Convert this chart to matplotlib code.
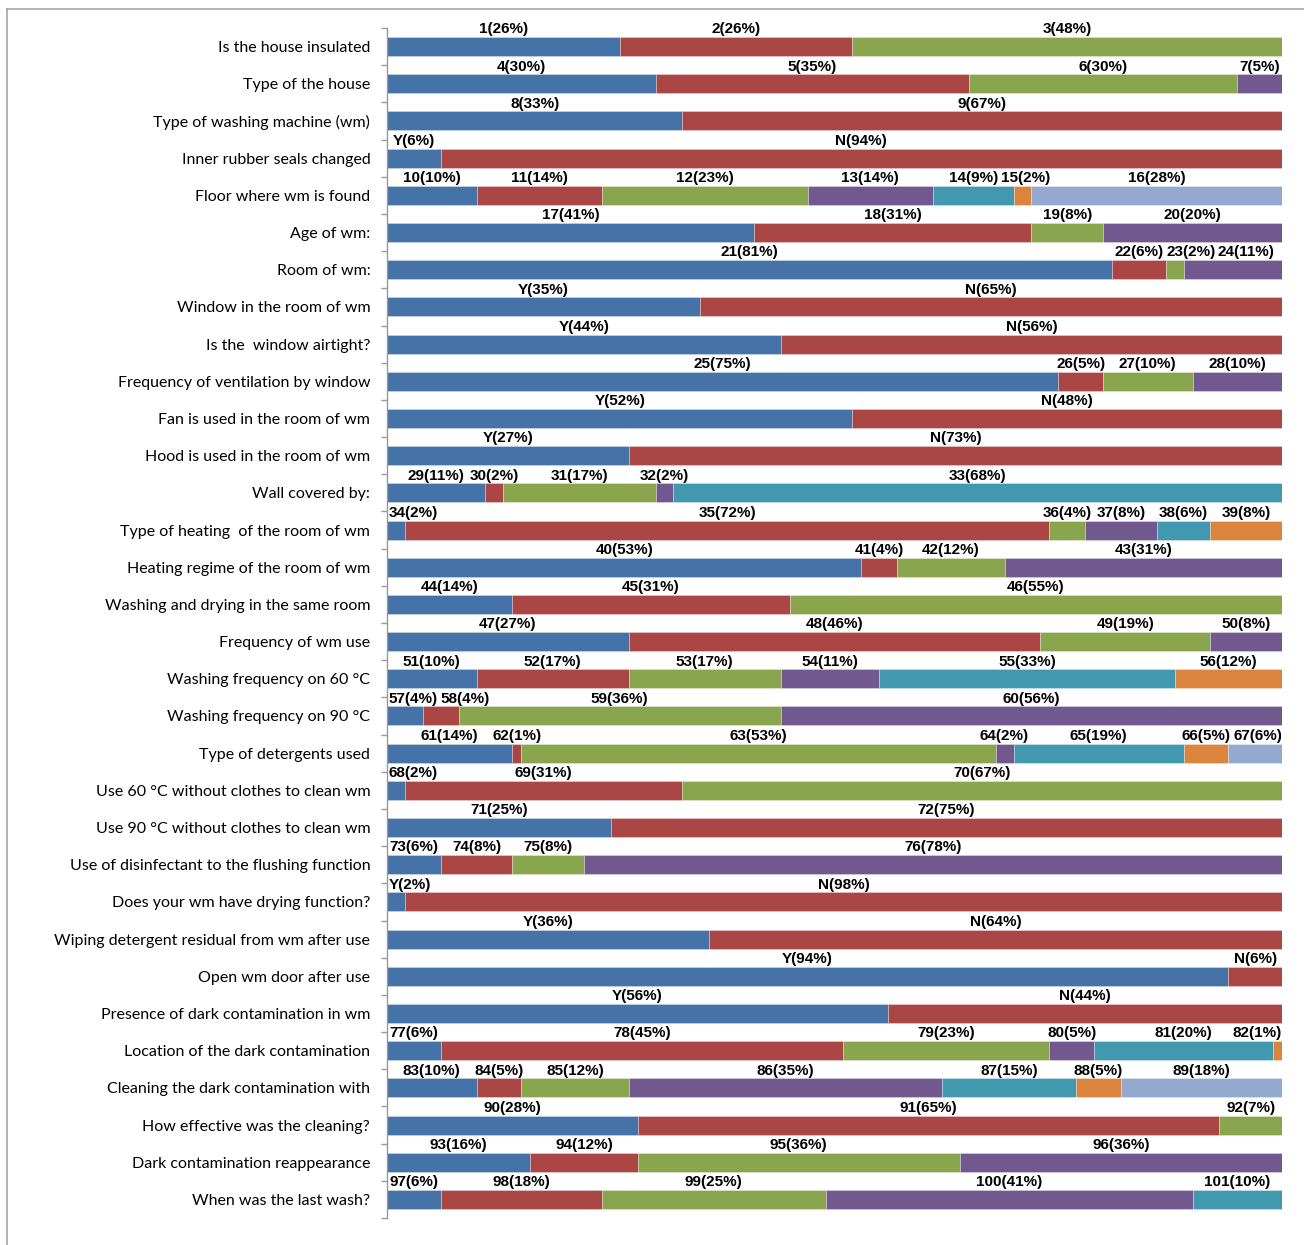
import numpy as np
import matplotlib.pyplot as plt
from matplotlib.lines import Line2D

plt.rcParams['font.family'] = ['Lato', 'DejaVu Sans']

# question labels, top to bottom
questions = [
    "Is the house insulated",
    "Type of the house",
    "Type of washing machine (wm)",
    "Inner rubber seals changed",
    "Floor where wm is found",
    "Age of wm:",
    "Room of wm:",
    "Window in the room of wm",
    "Is the  window airtight?",
    "Frequency of ventilation by window",
    "Fan is used in the room of wm",
    "Hood is used in the room of wm",
    "Wall covered by:",
    "Type of heating  of the room of wm",
    "Heating regime of the room of wm",
    "Washing and drying in the same room",
    "Frequency of wm use",
    "Washing frequency on 60 °C",
    "Washing frequency on 90 °C",
    "Type of detergents used",
    "Use 60 °C without clothes to clean wm",
    "Use 90 °C without clothes to clean wm",
    "Use of disinfectant to the flushing function",
    "Does your wm have drying function?",
    "Wiping detergent residual from wm after use",
    "Open wm door after use",
    "Presence of dark contamination in wm",
    "Location of the dark contamination",
    "Cleaning the dark contamination with",
    "How effective was the cleaning?",
    "Dark contamination reappearance",
    "When was the last wash?",
]

# answer shares (%) per question
shares = [
    [26, 26, 48],
    [30, 35, 30, 5],
    [33, 67],
    [6, 94],
    [10, 14, 23, 14, 9, 2, 28],
    [41, 31, 8, 20],
    [81, 6, 2, 11],
    [35, 65],
    [44, 56],
    [75, 5, 10, 10],
    [52, 48],
    [27, 73],
    [11, 2, 17, 2, 68],
    [2, 72, 4, 8, 6, 8],
    [53, 4, 12, 31],
    [14, 31, 55],
    [27, 46, 19, 8],
    [10, 17, 17, 11, 33, 12],
    [4, 4, 36, 56],
    [14, 1, 53, 2, 19, 5, 6],
    [2, 31, 67],
    [25, 75],
    [6, 8, 8, 78],
    [2, 98],
    [36, 64],
    [94, 6],
    [56, 44],
    [6, 45, 23, 5, 20, 1],
    [10, 5, 12, 35, 15, 5, 18],
    [28, 65, 7],
    [16, 12, 36, 36],
    [6, 18, 25, 41, 10],
]

# questions answered yes / no (labelled Y, N instead of numbers)
yes_no = [3, 7, 8, 10, 11, 23, 24, 25, 26]

colors = ['#4572A7', '#AA4643', '#89A54E', '#71588F', '#4198AF', '#DB843D', '#93A9CF']

fig = plt.figure(figsize=(13.04, 12.45), dpi=100)
ax = fig.add_axes([387/1304, 1-1218/1245, (1282-387)/1304, (1218-28)/1245])

bar_h = 0.51
num = 1
row_labels = []
for i, row in enumerate(shares):
    left = 0
    texts = []
    for j, v in enumerate(row):
        ax.barh(i, v, left=left, height=bar_h, color=colors[j],
                edgecolor=(1, 1, 1, 0.35), linewidth=0.6)
        if i in yes_no:
            name = "Y" if j == 0 else "N"
        else:
            name = str(num)
            num += 1
        t = ax.text(left + v/2, i - bar_h/2 - 0.02, f"{name}({v}%)",
                    ha='center', va='bottom', fontsize=11, fontweight='bold',
                    family=['Liberation Sans', 'DejaVu Sans'])
        texts.append(t)
        left += v
    row_labels.append(texts)

ax.set_xlim(0, 100)
ax.set_ylim(len(questions) - 0.5, -0.5)
ax.set_yticks(range(len(questions)))
ax.set_yticklabels(questions, fontsize=11.5)
ax.set_yticks(np.arange(-0.5, len(questions)), minor=True)
ax.tick_params(axis='y', which='major', length=0, pad=12)
ax.tick_params(axis='y', which='minor', length=4, width=1, color='#9A9A9A', direction='out')
ax.set_xticks([])
for s in ['top', 'right', 'bottom']:
    ax.spines[s].set_visible(False)
ax.spines['left'].set_color('#9A9A9A')
ax.spines['left'].set_linewidth(1)

# keep data labels inside the plot area and apart from each other
fig.canvas.draw()
r = fig.canvas.get_renderer()
ax_w = ax.get_window_extent(r).width
gap = 0.3
for texts in row_labels:
    xs = [t.get_position()[0] for t in texts]
    ws = [t.get_window_extent(r).width / ax_w * 100 for t in texts]
    for k in range(len(xs)):
        lo = ws[k]/2 + 0.15 if k == 0 else xs[k-1] + ws[k-1]/2 + gap + ws[k]/2
        xs[k] = max(xs[k], lo)
    for k in range(len(xs) - 1, -1, -1):
        hi = 100 - ws[k]/2 if k == len(xs) - 1 else xs[k+1] - ws[k+1]/2 - gap - ws[k]/2
        xs[k] = min(xs[k], hi)
    for t, x in zip(texts, xs):
        t.set_x(x)

# outer chart frame
fig.add_artist(Line2D([7/1304, 1], [1-9/1245, 1-9/1245], color='#A6A6A6', lw=1.2))
fig.add_artist(Line2D([7/1304, 7/1304], [0, 1-9/1245], color='#A6A6A6', lw=1.2))

plt.savefig('out.png', dpi=100)
